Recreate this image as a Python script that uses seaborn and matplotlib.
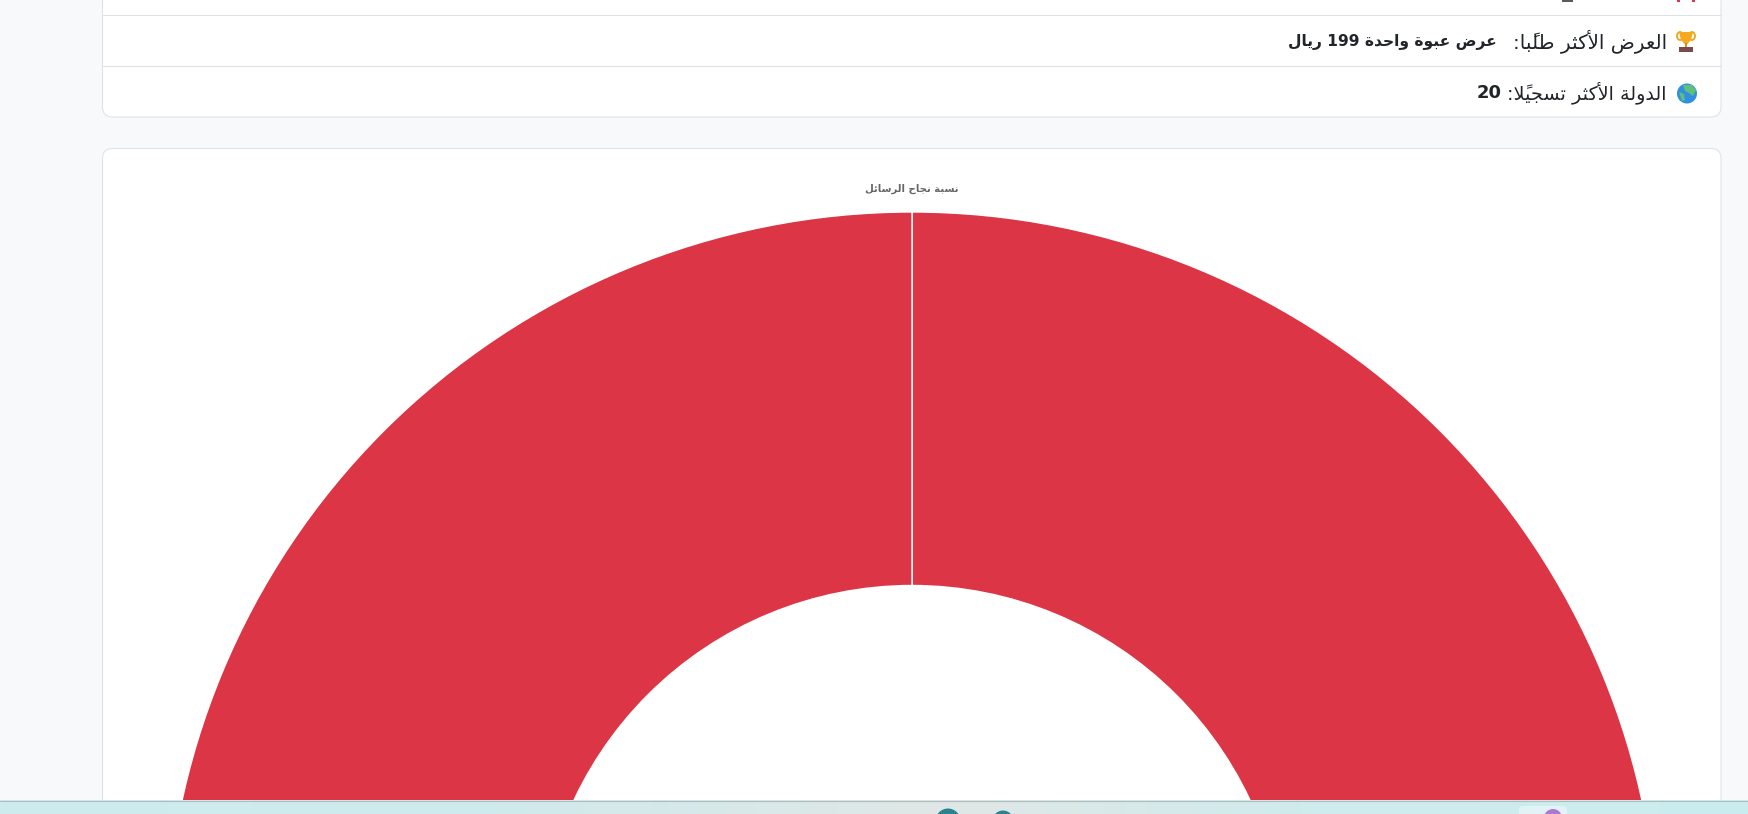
import matplotlib
matplotlib.use("Agg")
import matplotlib.pyplot as plt
from matplotlib.patches import Circle, FancyBboxPatch, Polygon, Rectangle, Ellipse
import numpy as np
import seaborn as sns

# ---- data ----
slice_labels = ["الرسائل الناجحة", "الرسائل الفاشلة"]
slice_values = [50, 50]
slice_colors = ["#dc3545", "#dc3545"]
chart_title = "نسبة نجاح الرسائل"
row_offer_label = "العرض الأكثر طلبًا:"
row_offer_value = "عرض عبوة واحدة 199 ريال"
row_country_label = "الدولة الأكثر تسجيلًا:"
row_country_value = "20"

W, H = 1749, 814
PAGE, CARD, LINE, INK = "#f8f9fa", "#ffffff", "#dee2e6", "#212529"

# ---- Arabic shaping: matplotlib has no bidi/joining, so use presentation forms ----
FORMS = {}
def _add(ch, iso, n):
    FORMS[ch] = tuple(chr(iso + i) for i in range(n))
for ch, iso, n in [("ا",0xFE8D,2),("أ",0xFE83,2),("ب",0xFE8F,4),("ة",0xFE93,2),("ت",0xFE95,4),
                   ("ث",0xFE99,4),("ج",0xFE9D,4),("ح",0xFEA1,4),("د",0xFEA9,2),("ر",0xFEAD,2),
                   ("س",0xFEB1,4),("ض",0xFEBD,4),("ط",0xFEC1,4),("ع",0xFEC9,4),("ك",0xFED9,4),
                   ("ل",0xFEDD,4),("ن",0xFEE5,4),("و",0xFEED,2),("ي",0xFEF1,4),("ئ",0xFE89,4),
                   ("ه",0xFEE9,4),("م",0xFEE1,4)]:
    _add(ch, iso, n)
MARKS = "\u064b\u0651"
LAM_ALEF = {"ا": ("\ufefb", "\ufefc"), "أ": ("\ufef7", "\ufef8")}

def shape(text):
    """Logical-order Arabic -> visual-order presentation forms."""
    clusters = []
    i = 0
    while i < len(text):
        ch = text[i]
        if ch in MARKS and clusters:
            clusters[-1][1] += ch
        elif ch == "ل":
            j = i + 1
            marks = ""
            while j < len(text) and text[j] in MARKS:
                marks += text[j]
                j += 1
            if j < len(text) and text[j] in LAM_ALEF:
                clusters.append([("LA", text[j]), marks])
                i = j
            else:
                clusters.append([ch, ""])
        else:
            clusters.append([ch, ""])
        i += 1
    def joins_next(c):
        return c == "ل" or (c in FORMS and len(FORMS[c]) == 4)
    out = []
    for k, (c, marks) in enumerate(clusters):
        prev = clusters[k - 1][0] if k else None
        nxt = clusters[k + 1][0] if k + 1 < len(clusters) else None
        from_prev = isinstance(prev, str) and joins_next(prev)
        if isinstance(c, tuple):
            glyph = LAM_ALEF[c[1]][1 if from_prev else 0]
        elif c in FORMS:
            to_next = joins_next(c) and (isinstance(nxt, tuple) or nxt in FORMS)
            f = FORMS[c]
            if len(f) == 2:
                glyph = f[1 if from_prev else 0]
            elif from_prev and to_next:
                glyph = f[3]
            elif to_next:
                glyph = f[2]
            elif from_prev:
                glyph = f[1]
            else:
                glyph = f[0]
        else:
            glyph = c
        out.append(glyph + marks)
    # reverse visually, keep digit runs left to right
    res, run = [], ""
    for g in out:
        if g.isdigit():
            run += g
        else:
            if run:
                res.append(run); run = ""
            res.append(g)
    if run:
        res.append(run)
    return "".join(reversed(res))

sns.set_theme(style="white")
plt.rcParams["font.family"] = ["DejaVu Sans"]
fig = plt.figure(figsize=(W / 100, H / 100), dpi=100, facecolor=PAGE)

# ---- page layer in pixel coordinates ----
bg = fig.add_axes([0, 0, 1, 1], zorder=0)
bg.set_xlim(0, W); bg.set_ylim(H, 0); bg.axis("off")
for y0, y1 in [(-60, 117), (148.5, 1000)]:
    bg.add_patch(FancyBboxPatch((102.5, y0), 1721 - 102.5, y1 - y0,
                                boxstyle="round,pad=0,rounding_size=10",
                                fc=CARD, ec=LINE, lw=0.75))
for y in (15, 66):
    bg.plot([103, 1721], [y, y], color=LINE, lw=0.75)

# clipped remains of the row above
bg.add_patch(Rectangle((1562, -2), 11, 4, fc=INK, ec="none", alpha=.75))
bg.add_patch(Rectangle((1677, -2), 3, 4, fc="#e0354a", ec="none"))
bg.add_patch(Rectangle((1692, -2), 3, 4, fc="#e0354a", ec="none"))

# rows
TXT = dict(color=INK, va="center", ha="right", family="DejaVu Sans")
bg.text(1667, 41.5, shape(row_offer_label), fontsize=14.3, **TXT)
bg.text(1497, 41.5, shape(row_offer_value), fontsize=11.2, fontweight="bold", **TXT)
bg.text(1667, 93, shape(row_country_label), fontsize=13.8, **TXT)
bg.text(1502, 93, shape(row_country_value), fontsize=13, fontweight="bold", **TXT)

# trophy emoji
bg.add_patch(Ellipse((1680, 36), 6, 8, fc="none", ec="#f0a41c", lw=1.3))
bg.add_patch(Ellipse((1692, 36), 6, 8, fc="none", ec="#f0a41c", lw=1.3))
bg.add_patch(Polygon([(1679, 32), (1693, 32), (1691, 40), (1687.5, 44), (1684.5, 44), (1681, 40)],
                     fc="#f4a91f", ec="none"))
bg.add_patch(Rectangle((1685, 43), 2, 4, fc="#d98c1a", ec="none"))
bg.add_patch(Rectangle((1679, 47), 14, 5, fc="#7b4a4a", ec="none"))

# globe emoji
bg.add_patch(Circle((1687, 93.5), 10, fc="#2f8fe0", ec="none"))
bg.add_patch(Polygon([(1683, 85), (1692, 85), (1696, 90), (1693, 96), (1689, 93), (1685, 91)],
                     fc="#5fc07a", ec="none"))
bg.add_patch(Polygon([(1679, 92), (1684, 94), (1685, 100), (1682, 101)], fc="#5fc07a", ec="none"))

bg.text(912, 188.5, shape(chart_title), fontsize=7.3, fontweight="bold", color="#666666",
        ha="center", va="center", family="DejaVu Sans")

# ---- doughnut: its own axes, radius 747 px around (912, 959) ----
cx, cy, R = 912, 959, 747
ax = fig.add_axes([(cx - R) / W, (H - cy - R) / H, 2 * R / W, 2 * R / H], zorder=1)
ax.patch.set_alpha(0)
ax.pie(slice_values, colors=slice_colors, startangle=90, counterclock=False, radius=1,
       wedgeprops=dict(width=0.5, edgecolor="white", linewidth=1.0))
ax.set_xlim(-1, 1); ax.set_ylim(-1, 1)

# ---- taskbar over the bottom of the page ----
tb = fig.add_axes([0, 0, 1, 14 / H], zorder=2)
tb.set_xlim(0, W); tb.set_ylim(814, 800); tb.axis("off")
xs = np.array([0, 500, 950, 1300, W])
cs = np.array([[205, 236, 238], [208, 234, 236], [224, 231, 230], [208, 235, 237], [203, 237, 239]]) / 255
grad = np.stack([np.interp(np.arange(W), xs, cs[:, i]) for i in range(3)], axis=-1)[None, :, :]
tb.imshow(grad, extent=(0, W, 814, 800), aspect="auto", zorder=0)
tb.set_xlim(0, W); tb.set_ylim(814, 800)
tb.plot([0, W], [800.5, 800.5], color="#aebcbc", lw=0.8, zorder=1)
tb.add_patch(Circle((948, 821), 12.5, fc="#2a8490", ec="none", zorder=2))
tb.add_patch(Circle((1003, 821), 10.5, fc="#2a8490", ec="none", zorder=2))
tb.add_patch(FancyBboxPatch((1519, 806), 48, 20, boxstyle="round,pad=0,rounding_size=4",
                            fc="#e2f3f6", ec="none", zorder=2))
tb.add_patch(Circle((1553, 818), 9, fc="#ab78d6", ec="none", zorder=3))

fig.savefig("out.png", dpi=100, facecolor=PAGE)
